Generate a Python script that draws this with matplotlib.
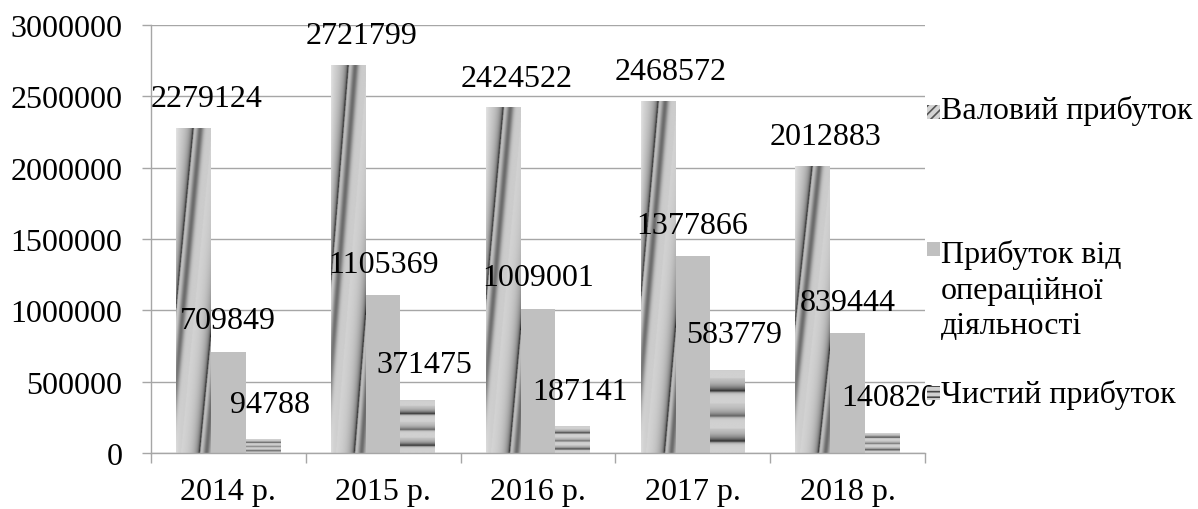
import numpy as np
import matplotlib
matplotlib.use("Agg")
import matplotlib.pyplot as plt
from matplotlib.patches import Rectangle

plt.rcParams['font.family'] = ['Liberation Serif', 'DejaVu Serif']
plt.rcParams['hatch.linewidth'] = 1.2

years = ['2014 р.', '2015 р.', '2016 р.', '2017 р.', '2018 р.']
gross = [2279124, 2721799, 2424522, 2468572, 2012883]
operating = [709849, 1105369, 1009001, 1377866, 839444]
net = [94788, 371475, 187141, 583779, 140820]
series_names = ['Валовий прибуток', 'Прибуток від\nопераційної\nдіяльності', 'Чистий прибуток']

FS = 23
GRID = '#a6a6a6'


def gross_texture(h=400, w=80):
    # diagonal gradient with a sharp dark stripe, scaled to the bar box
    u = np.linspace(0, 1, w)[None, :]
    v = np.linspace(0, 1, h)[:, None]
    s = u + 0.9 * v
    per = 1.08
    d = np.mod(s - 0.5 + per / 2, per) - per / 2
    dl = np.minimum(d, 0)
    dr = np.maximum(d, 0)
    left = 0.84 - 0.45 * np.exp(dl / 0.16) - 0.35 * np.exp(dl / 0.025)
    right = 0.80 - 0.38 * np.exp(-((dr - 0.2) / 0.1) ** 2) - 0.45 * np.exp(-dr / 0.015)
    img = np.where(d < 0, left, right)
    img = img + 0.07 * np.exp(-u / 0.08)  # light left edge
    return np.clip(img, 0, 1)


def net_texture(h=300, w=10):
    v = np.linspace(0, 1, h)[:, None] * np.ones((1, w))
    per = 0.3
    d = np.mod(v - 0.26 + per / 2, per) - per / 2
    k = np.floor((v - 0.26 + per / 2) / per).astype(int)
    strength = np.where(k % 2 == 0, 0.65, 0.45)
    left = 0.82 - strength * np.exp(np.minimum(d, 0) / 0.06)
    right = 0.82 - strength * np.exp(-np.maximum(d, 0) / 0.015)
    return np.clip(np.where(d < 0, left, right), 0, 1)


fig = plt.figure(figsize=(11.98, 5.10), dpi=100)
ax = fig.add_axes([0.126, 0.110, 0.646, 0.839])

x = np.arange(len(years))
w = 0.224
g_tex = gross_texture()
n_tex = net_texture()

bars_g = ax.bar(x - w, gross, w, color='none', linewidth=0, zorder=2)
bars_o = ax.bar(x, operating, w, color='#c0c0c0', linewidth=0, zorder=2)
bars_n = ax.bar(x + w, net, w, color='none', linewidth=0, zorder=2)

for bars, tex in ((bars_g, g_tex), (bars_n, n_tex)):
    for b in bars:
        x0, h, bw = b.get_x(), b.get_height(), b.get_width()
        im = ax.imshow(tex, cmap='gray', vmin=0, vmax=1, extent=[x0, x0 + bw, 0, h],
                       origin='upper', aspect='auto', interpolation='bilinear', zorder=2)
        im.set_clip_path(b)

# data labels
for bars, vals, dx, dy in ((bars_g, gross, 13, 29), (bars_o, operating, 0, 31), (bars_n, net, 7, 35)):
    for b, val in zip(bars, vals):
        ax.annotate(str(val), (b.get_x() + b.get_width() / 2, val), xytext=(dx, dy),
                    textcoords='offset pixels', ha='center', va='center', fontsize=FS, zorder=5)

ax.set_xlim(-0.5, len(years) - 0.5)
ax.set_ylim(0, 3000000)
ax.set_yticks(np.arange(0, 3000001, 500000))
ax.set_yticklabels([str(t) for t in range(0, 3000001, 500000)])
ax.set_xticks(x)
ax.set_xticklabels(years)
ax.set_xticks(np.arange(-0.5, len(years)), minor=True)
ax.tick_params(axis='x', which='major', length=0, pad=17, labelsize=FS)
ax.tick_params(axis='x', which='minor', length=7, color=GRID, width=1)
ax.tick_params(axis='y', length=6.5, color=GRID, width=1, pad=14, labelsize=FS)
ax.grid(axis='y', color=GRID, linewidth=1, zorder=0)
ax.set_axisbelow(True)
for sp in ('top', 'right'):
    ax.spines[sp].set_visible(False)
for sp in ('left', 'bottom'):
    ax.spines[sp].set_color(GRID)
    ax.spines[sp].set_linewidth(1)

# legend, drawn by hand to keep the uneven spacing
W, H = 1198, 510
leg = [(113, 113, dict(facecolor='#d4d4d4', hatch='////', edgecolor='#555555')),
       (250, 257, dict(facecolor='#c0c0c0', edgecolor='none')),
       (394, 397, dict(facecolor='#d0d0d0', hatch='---', edgecolor='#444444'))]
for name, (sy, ty, kw) in zip(series_names, leg):
    fig.patches.append(Rectangle((927 / W, 1 - (sy + 7) / H), 13 / W, 14 / H,
                                 transform=fig.transFigure, linewidth=0, **kw))
    fig.text(941 / W, 1 - (ty - 17) / H, name, fontsize=FS, ha='left', va='top', linespacing=1.3)

fig.savefig('out.png', dpi=100)
